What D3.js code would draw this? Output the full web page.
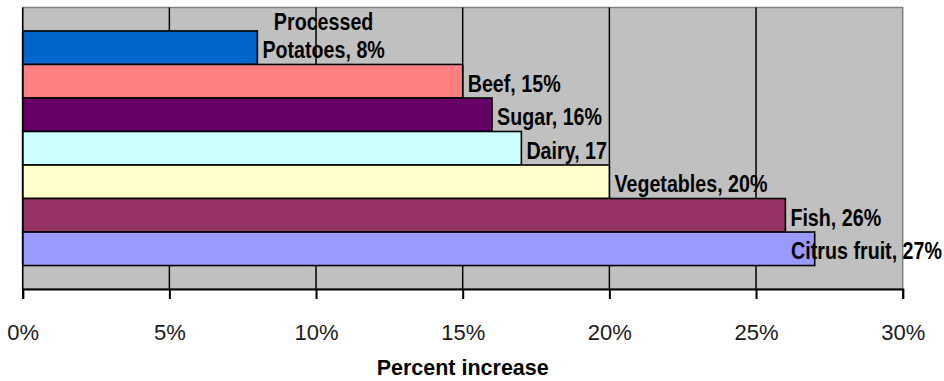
<!DOCTYPE html>
<html>
<head>
<meta charset="utf-8">
<script src="https://cdn.jsdelivr.net/npm/d3@7"></script>
<style>
  html, body { margin: 0; padding: 0; background: #fff; }
  svg { display: block; }
</style>
</head>
<body>
<div id="chart"></div>
<script>
// Chart data (top to bottom)
const categories = ['Processed Potatoes', 'Beef', 'Sugar', 'Dairy', 'Vegetables', 'Fish', 'Citrus fruit'];
const values = [8, 15, 16, 17, 20, 26, 27];
const labelLines = [['Processed', 'Potatoes, 8%'], ['Beef, 15%'], ['Sugar, 16%'], ['Dairy, 17'], ['Vegetables, 20%'], ['Fish, 26%'], ['Citrus fruit, 27%']];
const barColors = ['#0066CC', '#FF8080', '#660066', '#CCFFFF', '#FFFFCC', '#993366', '#9999FF'];
const xTicks = [0, 5, 10, 15, 20, 25, 30];
const axisTitle = 'Percent increase';

// Layout
const CONFIG = {
  width: 944,
  height: 381,
  left: 22.7,
  right: 902.7,
  top: 7.5,
  bottom: 289,
  fontFamily: 'Arial, "Liberation Sans", sans-serif'
};

const svg = d3.select('#chart')
  .append('svg')
  .attr('width', CONFIG.width)
  .attr('height', CONFIG.height);

const x = d3.scaleLinear().domain([0, 30]).range([CONFIG.left, CONFIG.right]);
const y = d3.scaleBand()
  .domain(categories)
  .range([CONFIG.top, CONFIG.bottom])
  .paddingInner(0)
  .paddingOuter(0.7);

// Plot background
svg.append('rect')
  .attr('x', CONFIG.left)
  .attr('y', CONFIG.top)
  .attr('width', CONFIG.right - CONFIG.left)
  .attr('height', CONFIG.bottom - CONFIG.top)
  .attr('fill', '#C0C0C0')
  .attr('stroke', '#808080')
  .attr('stroke-width', 1.5);

// Vertical gridlines
svg.append('g')
  .selectAll('line')
  .data(xTicks.slice(1, -1))
  .enter()
  .append('line')
  .attr('x1', d => x(d))
  .attr('x2', d => x(d))
  .attr('y1', CONFIG.top)
  .attr('y2', CONFIG.bottom)
  .attr('stroke', '#000')
  .attr('stroke-width', 1.5);

// Bars
svg.append('g')
  .selectAll('rect')
  .data(categories)
  .enter()
  .append('rect')
  .attr('x', x(0))
  .attr('y', d => y(d))
  .attr('width', (d, i) => x(values[i]) - x(0))
  .attr('height', y.bandwidth())
  .attr('fill', (d, i) => barColors[i])
  .attr('stroke', '#000')
  .attr('stroke-width', 1.6);

// Left axis line
svg.append('line')
  .attr('x1', x(0)).attr('x2', x(0))
  .attr('y1', CONFIG.top).attr('y2', CONFIG.bottom)
  .attr('stroke', '#000')
  .attr('stroke-width', 1.5);

// Bottom axis
const xAxis = d3.axisBottom(x)
  .tickValues(xTicks)
  .tickSize(10)
  .tickPadding(24)
  .tickFormat(d => d + '%');

const axisG = svg.append('g')
  .attr('transform', `translate(0,${CONFIG.bottom})`)
  .call(xAxis);

axisG.select('.domain')
  .attr('stroke', '#000')
  .attr('stroke-width', 2);
axisG.selectAll('.tick line')
  .attr('stroke', '#000')
  .attr('stroke-width', 2);
axisG.selectAll('.tick text')
  .attr('fill', '#1a1a1a')
  .attr('font-family', CONFIG.fontFamily)
  .attr('font-size', 22)
  .attr('dy', 0)
  .attr('y', 51);

// Axis title
svg.append('text')
  .attr('x', (CONFIG.left + CONFIG.right) / 2)
  .attr('y', 375)
  .attr('text-anchor', 'middle')
  .attr('font-family', CONFIG.fontFamily)
  .attr('font-weight', 'bold')
  .attr('font-size', 21.5)
  .attr('fill', '#000')
  .text(axisTitle);

// Data labels (narrow bold); fall back to squeezing regular sans if narrow font is missing
const narrowFamily = '"Liberation Sans Narrow", "Arial Narrow", ' + CONFIG.fontFamily;
const probe = svg.append('text').attr('font-size', 24).attr('font-weight', 'bold').text('Vegetables, 20%');
const wideLen = probe.attr('font-family', CONFIG.fontFamily).node().getComputedTextLength();
const narrowLen = probe.attr('font-family', narrowFamily).node().getComputedTextLength();
probe.remove();
const squeeze = narrowLen / wideLen > 0.95 ? 0.82 : 1;

const labelGroup = svg.append('g');
categories.forEach((cat, i) => {
  const lines = labelLines[i];
  const cy = y(cat) + y.bandwidth() / 2;
  const t = labelGroup.append('text')
    .attr('font-family', narrowFamily)
    .attr('font-weight', 'bold')
    .attr('font-size', 24)
    .attr('fill', '#000')
    .attr('text-anchor', 'middle');
  const lineH = 28.5;
  const firstBase = cy + 10.5 - (lines.length - 1) * lineH;
  lines.forEach((ln, j) => {
    t.append('tspan')
      .attr('x', 0)
      .attr('y', firstBase + j * lineH)
      .text(ln);
  });
  // widest line sets the box
  let w = 0;
  t.selectAll('tspan').each(function() { w = Math.max(w, this.getComputedTextLength()); });
  w *= squeeze;
  let left = x(values[i]) + 5;
  if (left + w > CONFIG.width - 2) left = CONFIG.width - 2 - w;
  t.attr('transform', `translate(${left + w / 2},0) scale(${squeeze},1)`);
});
</script>
</body>
</html>
